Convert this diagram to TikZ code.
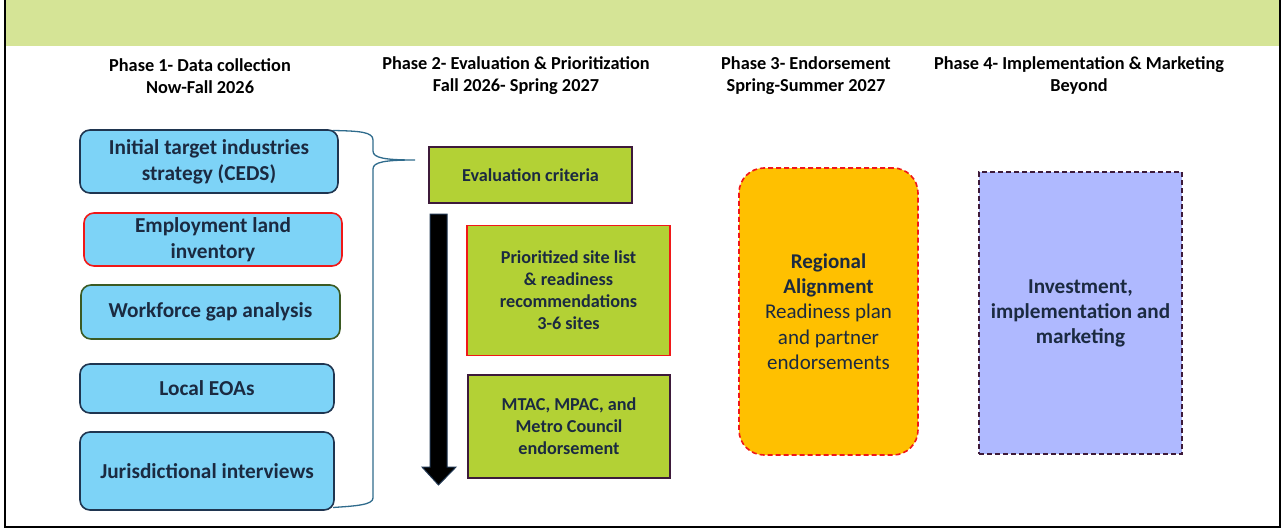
\documentclass[tikz,border=0pt]{standalone}
\usepackage{fontspec}
\setmainfont{Carlito}
\usetikzlibrary{positioning}
\definecolor{band}{HTML}{D5E496}
\definecolor{navy}{HTML}{1B2A41}
\definecolor{skyb}{HTML}{7DD3F7}
\definecolor{edgeblue}{HTML}{1F3550}
\definecolor{lime}{HTML}{B3D135}
\definecolor{plum}{HTML}{3D1A3A}
\definecolor{wgreen}{HTML}{3B5A23}
\definecolor{amber}{HTML}{FFC000}
\definecolor{lav}{HTML}{AFB9FF}
\definecolor{brace}{HTML}{2F6B8C}
\definecolor{redb}{HTML}{F01818}
\tikzset{
  hdr/.style={align=center, font=\fontsize{18.3}{22}\selectfont\bfseries, text=black},
  bluebox/.style={draw=edgeblue, line width=1.6pt, fill=skyb, rounded corners=10pt, align=center,
     font=\fontsize{21.3}{26}\selectfont\bfseries, text=navy, inner sep=0pt},
  limebox/.style={draw=plum, line width=1.6pt, fill=lime, align=center,
     font=\fontsize{18.2}{22}\selectfont\bfseries, text=navy, inner sep=0pt},
}
\begin{document}
\begin{tikzpicture}[x=1pt,y=-1pt]
\useasboundingbox (0,0) rectangle (1283,530);
% top band and frame
\fill[band] (5,0) rectangle (1280,46);
\draw[line width=2pt, black] (5,0) -- (5,527) -- (1280,527) -- (1280,0);

% headers
\node[hdr] (h1) at (200,76) {Phase 1- Data collection\\Now-Fall 2026};
\node[hdr] (h2) at (516,76) {Phase 2- Evaluation \& Prioritization\\Fall 2026- Spring 2027};
\node[hdr] (h3) at (806,76) {Phase 3- Endorsement\\Spring-Summer 2027};
\node[hdr] (h4) at (1079,76) {Phase 4- Implementation \& Marketing\\Beyond};

% phase 1 boxes
\node[bluebox, minimum width=258pt, minimum height=63pt] (b1) at (209,161.5) {Initial target industries\\strategy (CEDS)};
\node[bluebox, draw=redb, minimum width=258pt, minimum height=53pt] (b2) at (213,239.5) {Employment land\\inventory};
\node[bluebox, draw=wgreen, minimum width=259pt, minimum height=54pt] (b3) at (210.5,312) {Workforce gap analysis};
\node[bluebox, minimum width=254pt, minimum height=49pt] (b4) at (207,388.5) {Local EOAs};
\node[bluebox, minimum width=254pt, minimum height=78pt] (b5) at (207,471) {Jurisdictional interviews};

% brace
\coordinate (bt) at (333,130.5);
\coordinate (bb) at (333,507.5);
\coordinate (tip) at (415,160);
\draw[brace, line width=1.3pt, line join=round]
  (bt) .. controls (360,131) and (373,132) .. (373,140)
  -- (373,151) .. controls (373,158) and (385,160) .. (tip)
  (tip) .. controls (385,160) and (373,162) .. (373,169)
  -- (373,498) .. controls (373,505) and (355,506) .. (bb);

% phase 2
\node[limebox, minimum width=203pt, minimum height=56pt] (e1) at (530.5,175) {Evaluation criteria};
\node[limebox, draw=redb, minimum width=203pt, minimum height=130pt] (e2) at (568.5,290.5) {Prioritized site list\\\& readiness\\recommendations\\3-6 sites};
\node[limebox, minimum width=202pt, minimum height=103pt] (e3) at (569,426.5) {MTAC, MPAC, and\\Metro Council\\endorsement};

% black arrow
\coordinate (as) at (438.5,214);
\coordinate (ae) at (438.5,485);
\draw[edgeblue, line width=1pt, fill=black] (430,214) -- (447,214) -- (447,467) -- (456,467) -- (ae) -- (422,467) -- (430,467) -- cycle;

% phase 3
\node[draw=redb, dash pattern=on 5pt off 3pt, line width=1.6pt, fill=amber, rounded corners=25pt,
  minimum width=179pt, minimum height=287pt, inner sep=0pt, align=center, text=navy,
  font=\fontsize{21}{25.3}\selectfont] (r) at (828.5,311.5)
  {\textbf{Regional}\\\textbf{Alignment}\\Readiness plan\\and partner\\endorsements};

% phase 4
\node[draw=plum, dash pattern=on 5pt off 3pt, line width=1.6pt, fill=lav,
  minimum width=203pt, minimum height=282pt, inner sep=0pt, align=center, text=navy,
  font=\fontsize{21.2}{25}\selectfont\bfseries] (inv) at (1080.5,313)
  {Investment,\\implementation and\\marketing};
\end{tikzpicture}
\end{document}
